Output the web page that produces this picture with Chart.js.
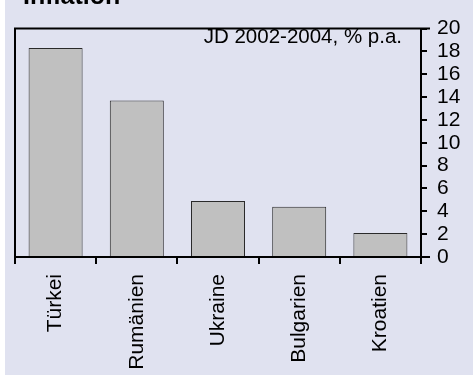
<!DOCTYPE html>
<html>
<head>
<meta charset="utf-8">
<script src="https://cdn.jsdelivr.net/npm/chart.js@4/dist/chart.umd.min.js"></script>
<style>
  html, body { margin: 0; padding: 0; background: #ffffff; }
  #wrap { width: 473px; height: 376px; position: relative; }
</style>
</head>
<body>
<div id="wrap"><canvas id="chart" width="473" height="376"></canvas></div>
<script>
// Inflation by country, average 2002-2004 (% per year)
const categories = ['Türkei', 'Rumänien', 'Ukraine', 'Bulgarien', 'Kroatien'];
const inflationValues = [18.3, 13.7, 4.9, 4.4, 2.1];
const yTickValues = [0, 2, 4, 6, 8, 10, 12, 14, 16, 18, 20];
const chartTitle = 'Inflation';
const periodNote = 'JD 2002-2004, % p.a.';

const FONT = "'Liberation Sans', Arial, Helvetica, sans-serif";
const PANEL = '#e0e2f0';

// Panel background, leaving a thin white margin on the left and bottom
const panelBackground = {
  id: 'panelBackground',
  beforeDraw(chart) {
    const ctx = chart.ctx;
    ctx.save();
    ctx.fillStyle = '#ffffff';
    ctx.fillRect(0, 0, chart.width, chart.height);
    ctx.fillStyle = PANEL;
    ctx.fillRect(5, 0, chart.width - 5, chart.height - 1);
    ctx.restore();
  }
};

// Frame around the plot, outward ticks on the value axis, and texts
const frameAndTexts = {
  id: 'frameAndTexts',
  afterDraw(chart) {
    const ctx = chart.ctx;
    const a = chart.chartArea;
    const y = chart.scales.y;
    ctx.save();
    ctx.strokeStyle = '#000000';
    ctx.lineWidth = 2;
    ctx.beginPath();
    // left edge, reaching down to the tick marks
    ctx.moveTo(a.left, a.top - 1);
    ctx.lineTo(a.left, a.bottom + 7);
    // top edge, running past the value axis
    ctx.moveTo(a.left - 1, a.top);
    ctx.lineTo(a.right + 9, a.top);
    // baseline
    ctx.moveTo(a.left - 1, a.bottom);
    ctx.lineTo(a.right + 9, a.bottom);
    // value axis
    ctx.moveTo(a.right, a.top - 1);
    ctx.lineTo(a.right, a.bottom + 7);
    ctx.stroke();

    ctx.beginPath();
    y.ticks.forEach(t => {
      const py = Math.round(y.getPixelForValue(t.value));
      ctx.moveTo(a.right, py);
      ctx.lineTo(a.right + 6, py);
    });
    ctx.stroke();

    ctx.fillStyle = '#000000';
    ctx.font = 'bold 25px ' + FONT;
    ctx.textAlign = 'left';
    ctx.textBaseline = 'alphabetic';
    ctx.fillText(chartTitle, 23, 4);

    ctx.font = '20.5px ' + FONT;
    ctx.textAlign = 'right';
    ctx.fillText(periodNote, 402, 43);
    ctx.restore();
  }
};

new Chart(document.getElementById('chart'), {
  type: 'bar',
  data: {
    labels: categories,
    datasets: [{
      data: inflationValues,
      backgroundColor: '#c0c0c0',
      borderColor: '#2a2a2a',
      borderWidth: 1,
      borderSkipped: 'bottom',
      barPercentage: 0.665,
      categoryPercentage: 1.0
    }]
  },
  options: {
    responsive: false,
    animation: false,
    devicePixelRatio: 1,
    layout: { padding: { left: 15, top: 15, right: 0, bottom: 0 } },
    plugins: {
      legend: { display: false },
      title: { display: false },
      tooltip: { enabled: false }
    },
    scales: {
      x: {
        type: 'category',
        offset: true,
        grid: {
          offset: true,
          drawOnChartArea: false,
          drawTicks: true,
          tickLength: 7,
          color: '#000000',
          lineWidth: 2
        },
        border: { display: false },
        ticks: {
          minRotation: 90,
          maxRotation: 90,
          autoSkip: false,
          padding: 10,
          color: '#000000',
          font: { family: FONT, size: 21 }
        },
        afterFit(scale) { scale.height = 119; }
      },
      y: {
        position: 'right',
        min: 0,
        max: 20,
        grid: { display: false, drawTicks: false },
        border: { display: false },
        afterBuildTicks(scale) {
          scale.ticks = yTickValues.map(v => ({ value: v }));
        },
        ticks: {
          autoSkip: false,
          padding: 16,
          color: '#000000',
          font: { family: FONT, size: 21 }
        },
        afterFit(scale) { scale.width = 52; }
      }
    }
  },
  plugins: [panelBackground, frameAndTexts]
});
</script>
</body>
</html>
